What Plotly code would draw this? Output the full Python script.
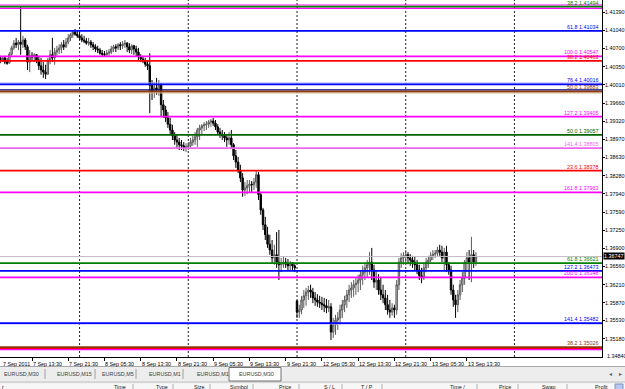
import plotly.graph_objects as go

# ---------------- data (EURUSD, M30) ----------------
start_bar = 2            # first visible bar index (bar 0 = 7 Sep 05:30)
first_open = 1.4052
gap_bar = 133            # first bar after the weekend
monday_open = 1.3590

highs = [
    1.4056, 1.4054, 1.4056, 1.4052, 1.4063, 1.4075, 1.4086, 1.4090, 1.4086, 1.4149,
    1.4094, 1.4090, 1.4077, 1.4067, 1.4063, 1.4061, 1.4059, 1.4056, 1.4052, 1.4044,
    1.4039, 1.4052, 1.4067, 1.4090, 1.4071, 1.4075, 1.4078, 1.4082, 1.4086, 1.4090,
    1.4097, 1.4099, 1.4105, 1.4107, 1.4103, 1.4101, 1.4097, 1.4094, 1.4090, 1.4090,
    1.4086, 1.4082, 1.4078, 1.4075, 1.4071, 1.4067, 1.4065, 1.4067, 1.4069, 1.4075,
    1.4077, 1.4078, 1.4080, 1.4082, 1.4084, 1.4086, 1.4082, 1.4080, 1.4078, 1.4077,
    1.4075, 1.4071, 1.4059, 1.4056, 1.4052, 1.4048, 1.4061, 1.4010, 1.4006, 1.4014,
    1.4010, 1.4004, 1.3972, 1.3961, 1.3949, 1.3938, 1.3925, 1.3911, 1.3906, 1.3900,
    1.3896, 1.3892, 1.3890, 1.3892, 1.3900, 1.3904, 1.3911, 1.3919, 1.3925, 1.3926,
    1.3930, 1.3932, 1.3934, 1.3936, 1.3938, 1.3934, 1.3926, 1.3919, 1.3915, 1.3911,
    1.3907, 1.3911, 1.3915, 1.3890, 1.3877, 1.3864, 1.3849, 1.3833, 1.3816, 1.3820,
    1.3820, 1.3818, 1.3824, 1.3839, 1.3835, 1.3797, 1.3767, 1.3750, 1.3731, 1.3716,
    1.3706, 1.3697, 1.3721, 1.3725, 1.3672, 1.3674, 1.3672, 1.3670, 1.3666, 1.3664,
    1.3660, 1.3592, 1.3583, 1.3600, 1.3611, 1.3615, 1.3619, 1.3621, 1.3615, 1.3607,
    1.3603, 1.3600, 1.3598, 1.3596, 1.3594, 1.3592, 1.3586, 1.3558, 1.3564, 1.3569,
    1.3583, 1.3592, 1.3600, 1.3611, 1.3621, 1.3626, 1.3630, 1.3634, 1.3640, 1.3649,
    1.3657, 1.3662, 1.3668, 1.3683, 1.3691, 1.3659, 1.3649, 1.3641, 1.3634, 1.3621,
    1.3611, 1.3602, 1.3592, 1.3586, 1.3583, 1.3630, 1.3672, 1.3681, 1.3683, 1.3687,
    1.3683, 1.3679, 1.3676, 1.3674, 1.3668, 1.3659, 1.3653, 1.3662, 1.3672, 1.3676,
    1.3683, 1.3687, 1.3687, 1.3693, 1.3697, 1.3695, 1.3691, 1.3695, 1.3664, 1.3657,
    1.3621, 1.3602, 1.3611, 1.3630, 1.3645, 1.3668, 1.3683, 1.3687, 1.3712, 1.3687,
    1.3683,
]

lows = [
    1.4042, 1.4044, 1.4040, 1.4039, 1.4042, 1.4056, 1.4067, 1.4071, 1.4067, 1.4058,
    1.4071, 1.4067, 1.4029, 1.4025, 1.4048, 1.4044, 1.4042, 1.4029, 1.4020, 1.4014,
    1.4012, 1.4021, 1.4040, 1.4044, 1.4039, 1.4056, 1.4059, 1.4061, 1.4067, 1.4071,
    1.4078, 1.4084, 1.4090, 1.4094, 1.4090, 1.4086, 1.4082, 1.4080, 1.4077, 1.4075,
    1.4071, 1.4067, 1.4063, 1.4061, 1.4058, 1.4054, 1.4054, 1.4056, 1.4056, 1.4059,
    1.4063, 1.4063, 1.4067, 1.4067, 1.4069, 1.4071, 1.4063, 1.4061, 1.4059, 1.4058,
    1.4054, 1.4048, 1.4044, 1.4042, 1.4035, 1.4029, 1.3947, 1.3972, 1.3976, 1.3982,
    1.3980, 1.3940, 1.3938, 1.3930, 1.3919, 1.3906, 1.3896, 1.3887, 1.3881, 1.3877,
    1.3877, 1.3875, 1.3873, 1.3877, 1.3881, 1.3885, 1.3887, 1.3883, 1.3896, 1.3907,
    1.3913, 1.3915, 1.3919, 1.3921, 1.3923, 1.3915, 1.3906, 1.3900, 1.3896, 1.3892,
    1.3883, 1.3887, 1.3881, 1.3858, 1.3843, 1.3833, 1.3816, 1.3788, 1.3790, 1.3793,
    1.3795, 1.3797, 1.3801, 1.3805, 1.3782, 1.3754, 1.3725, 1.3706, 1.3691, 1.3678,
    1.3662, 1.3659, 1.3653, 1.3630, 1.3645, 1.3653, 1.3653, 1.3649, 1.3649, 1.3649,
    1.3645, 1.3558, 1.3558, 1.3565, 1.3577, 1.3581, 1.3592, 1.3596, 1.3586, 1.3581,
    1.3579, 1.3577, 1.3573, 1.3569, 1.3567, 1.3569, 1.3516, 1.3520, 1.3526, 1.3535,
    1.3545, 1.3558, 1.3569, 1.3577, 1.3588, 1.3596, 1.3598, 1.3602, 1.3607, 1.3611,
    1.3621, 1.3630, 1.3634, 1.3640, 1.3630, 1.3615, 1.3611, 1.3602, 1.3592, 1.3586,
    1.3573, 1.3564, 1.3558, 1.3562, 1.3558, 1.3564, 1.3611, 1.3653, 1.3659, 1.3662,
    1.3660, 1.3657, 1.3653, 1.3649, 1.3641, 1.3630, 1.3624, 1.3630, 1.3645, 1.3653,
    1.3664, 1.3668, 1.3672, 1.3674, 1.3676, 1.3664, 1.3649, 1.3645, 1.3640, 1.3602,
    1.3579, 1.3558, 1.3569, 1.3592, 1.3607, 1.3621, 1.3645, 1.3630, 1.3626, 1.3653,
    1.3657,
]

closes = [
    1.4048, 1.4052, 1.4044, 1.4042, 1.4059, 1.4071, 1.4080, 1.4077, 1.4082, 1.4078,
    1.4086, 1.4073, 1.4044, 1.4056, 1.4054, 1.4058, 1.4048, 1.4037, 1.4029, 1.4025,
    1.4021, 1.4048, 1.4058, 1.4052, 1.4063, 1.4067, 1.4071, 1.4077, 1.4073, 1.4082,
    1.4090, 1.4096, 1.4101, 1.4097, 1.4094, 1.4090, 1.4086, 1.4084, 1.4080, 1.4082,
    1.4077, 1.4073, 1.4069, 1.4067, 1.4061, 1.4059, 1.4058, 1.4061, 1.4063, 1.4069,
    1.4073, 1.4071, 1.4077, 1.4075, 1.4078, 1.4080, 1.4073, 1.4067, 1.4075, 1.4069,
    1.4063, 1.4054, 1.4050, 1.4046, 1.4040, 1.4037, 1.4000, 1.3987, 1.3995, 1.3991,
    1.4002, 1.3963, 1.3953, 1.3938, 1.3926, 1.3915, 1.3904, 1.3896, 1.3892, 1.3887,
    1.3885, 1.3881, 1.3883, 1.3885, 1.3892, 1.3896, 1.3902, 1.3915, 1.3919, 1.3923,
    1.3925, 1.3926, 1.3930, 1.3932, 1.3928, 1.3921, 1.3911, 1.3907, 1.3904, 1.3900,
    1.3896, 1.3900, 1.3887, 1.3866, 1.3854, 1.3839, 1.3824, 1.3801, 1.3805, 1.3809,
    1.3812, 1.3811, 1.3816, 1.3830, 1.3792, 1.3763, 1.3735, 1.3716, 1.3698, 1.3687,
    1.3672, 1.3678, 1.3664, 1.3659, 1.3660, 1.3664, 1.3660, 1.3657, 1.3660, 1.3657,
    1.3653, 1.3569, 1.3573, 1.3592, 1.3600, 1.3607, 1.3611, 1.3607, 1.3596, 1.3592,
    1.3588, 1.3586, 1.3583, 1.3581, 1.3577, 1.3579, 1.3531, 1.3545, 1.3554, 1.3558,
    1.3573, 1.3583, 1.3592, 1.3602, 1.3611, 1.3615, 1.3621, 1.3624, 1.3630, 1.3640,
    1.3645, 1.3653, 1.3659, 1.3664, 1.3649, 1.3626, 1.3630, 1.3611, 1.3602, 1.3596,
    1.3583, 1.3573, 1.3569, 1.3577, 1.3573, 1.3621, 1.3664, 1.3672, 1.3676, 1.3678,
    1.3672, 1.3668, 1.3664, 1.3659, 1.3649, 1.3638, 1.3634, 1.3653, 1.3664, 1.3668,
    1.3676, 1.3679, 1.3681, 1.3687, 1.3683, 1.3672, 1.3683, 1.3659, 1.3649, 1.3611,
    1.3592, 1.3583, 1.3602, 1.3621, 1.3634, 1.3664, 1.3672, 1.3664, 1.3678, 1.3664,
    1.36747,
]

bid_price = 1.36747

# time axis labels (bar index -> text)
label_bars = [0, 16, 32, 48, 64, 80, 96, 112, 128, 144, 160, 176, 192, 208]
label_texts = ["7 Sep 2011", "7 Sep 13:30", "7 Sep 21:30", "8 Sep 05:30", "8 Sep 13:30",
               "8 Sep 21:30", "9 Sep 05:30", "9 Sep 13:30", "9 Sep 21:30", "12 Sep 05:30",
               "12 Sep 13:30", "12 Sep 21:30", "13 Sep 05:30", "13 Sep 13:30"]
day_separator_bars = [37, 85, 133, 181, 229]

price_ticks = [1.41390, 1.41040, 1.40700, 1.40350, 1.40010, 1.39660, 1.39320, 1.38970,
               1.38630, 1.38280, 1.37940, 1.37590, 1.37250, 1.36900, 1.36560, 1.36210,
               1.35870, 1.35530, 1.35180, 1.34840]

# Fibonacci levels: (label, price, colour)
fib_levels = [
    ("38.2 1.41494", 1.41494, "#008000"),
    ("61.8 1.41034", 1.41034, "#0000ff"),
    ("100.0 1.40547", 1.40547, "#ff00ff"),
    ("38.2 1.40463", 1.40463, "#ff0000"),
    ("76.4 1.40016", 1.40016, "#0000ff"),
    ("50.0 1.39883", 1.39883, "#8b3a0e"),
    ("127.2 1.39405", 1.39405, "#ff00ff"),
    ("50.0 1.39057", 1.39057, "#006400"),
    ("141.4 1.38805", 1.38805, "#ee66ee"),
    ("23.6 1.38378", 1.38378, "#ff0000"),
    ("161.8 1.37963", 1.37963, "#ff00ff"),
    ("61.8 1.36621", 1.36621, "#008000"),
    ("127.2 1.36473", 1.36473, "#0000ff"),
    ("200.0 1.36348", 1.36348, "#ff00ff"),
    ("141.4 1.35482", 1.35482, "#0000ff"),
    ("38.2 1.35026", 1.35026, "#8b3a0e"),
]
# unlabeled companion lines (price, colour)
extra_levels = [
    (1.41525, "#ff00ff"), (1.41462, "#ff00ff"), (1.40043, "#9fa8ff"),
    (1.39912, "#000080"), (1.39855, "#d8b48c"), (1.35466, "#aab2ff"),
    (1.35002, "#ff0000"), (1.34978, "#ff00ff"),
]

tab_names = ["EURUSD,M30", "EURUSD,M15", "EURUSD,M5", "EURUSD,M1", "EURUSD,M1", "EURUSD,M30"]
header_cols = ["Time", "Type", "Size", "Symbol", "Price", "S / L", "T / P", "Time /", "Price", "Swap", "Profit"]

# ---------------- layout geometry ----------------
W, H = 625, 389
PW, PH = 602, 357
BAR_PX = 2.265
BAR0_PX = -4.24
x_lo = (0 - BAR0_PX) / BAR_PX
x_hi = (PW - BAR0_PX) / BAR_PX
y_hi = 1.41620
y_lo = y_hi - PH * 0.00019

FONT = "Liberation Sans, Arial, sans-serif"
FS = 5.4


def px(x):
    return x / PW


def py(y):
    return (PH - y) / PH


def bar_px(b):
    return BAR0_PX + (b) * BAR_PX


bars = list(range(start_bar, start_bar + len(closes)))
opens = [first_open] + closes[:-1]
opens[gap_bar - start_bar] = monday_open

fig = go.Figure()
fig.add_trace(go.Candlestick(
    x=bars, open=opens, high=highs, low=lows, close=closes,
    increasing=dict(line=dict(color="#5a5a5a", width=1), fillcolor="#c8c8c8"),
    decreasing=dict(line=dict(color="#000000", width=1), fillcolor="#000000"),
    whiskerwidth=0, showlegend=False, hoverinfo="skip",
))

shapes = []
annotations = []

# day separators (dotted)
for b in day_separator_bars:
    shapes.append(dict(type="line", xref="x", yref="paper", x0=b, x1=b, y0=0, y1=1,
                       line=dict(color="#202020", width=1, dash="2px,2px"), layer="below"))

# bid line
shapes.append(dict(type="line", xref="paper", yref="y", x0=0, x1=1, y0=bid_price, y1=bid_price,
                   line=dict(color="#c0c0c0", width=1)))

for p, c in extra_levels:
    shapes.append(dict(type="line", xref="paper", yref="y", x0=0, x1=1, y0=p, y1=p,
                       line=dict(color=c, width=1.2)))

for txt, p, c in fib_levels:
    shapes.append(dict(type="line", xref="paper", yref="y", x0=0, x1=1, y0=p, y1=p,
                       line=dict(color=c, width=1.8)))
    annotations.append(dict(text=txt, xref="paper", yref="y", x=px(600), y=p,
                            xanchor="right", yanchor="bottom", showarrow=False, yshift=-1,
                            font=dict(family=FONT, size=FS, color=c)))

# current price box
annotations.append(dict(text=f"{bid_price:.5f}", xref="paper", yref="y", x=px(603), y=bid_price,
                        xanchor="left", yanchor="middle", showarrow=False,
                        bgcolor="black", borderpad=0,
                        font=dict(family=FONT, size=FS, color="white")))
# lowest tick label (at bottom edge)
annotations.append(dict(text="1.34840", xref="paper", yref="paper", x=px(605), y=py(355.5),
                        xanchor="left", yanchor="middle", showarrow=False,
                        font=dict(family=FONT, size=FS, color="black")))

# time labels (placed in pixel space; first one kept inside the picture)
for b, t in zip(label_bars, label_texts):
    xpos = max(bar_px(b) - 1, 0.5)
    annotations.append(dict(text=t, xref="paper", yref="paper", x=px(xpos), y=py(363.5),
                            xanchor="left", yanchor="middle", showarrow=False,
                            font=dict(family=FONT, size=FS, color="black")))

# ---- bottom terminal panel ----
shapes.append(dict(type="rect", xref="paper", yref="paper", x0=px(-1), x1=px(W + 1),
                   y0=py(381), y1=py(366.5), fillcolor="#ededed", line=dict(width=0), layer="above"))
shapes.append(dict(type="line", xref="paper", yref="paper", x0=px(0), x1=px(W),
                   y0=py(366.5), y1=py(366.5), line=dict(color="#a8a8a8", width=1)))
shapes.append(dict(type="rect", xref="paper", yref="paper", x0=px(-1), x1=px(W + 1),
                   y0=py(383.5), y1=py(381), fillcolor="#d6d6d6", line=dict(width=0)))
shapes.append(dict(type="rect", xref="paper", yref="paper", x0=px(-1), x1=px(W + 1),
                   y0=py(H + 1), y1=py(383.5), fillcolor="#f7f7f7", line=dict(width=0)))
# active tab
shapes.append(dict(type="rect", xref="paper", yref="paper", x0=px(229), x1=px(281),
                   y0=py(381), y1=py(367.5), fillcolor="white", line=dict(color="#707070", width=1)))
for sx in [45, 95, 136, 183]:
    shapes.append(dict(type="line", xref="paper", yref="paper", x0=px(sx), x1=px(sx),
                       y0=py(379), y1=py(369), line=dict(color="#a0a0a0", width=1)))
for name, tx in zip(tab_names, [2, 55, 100, 147, 195, 237]):
    annotations.append(dict(text=name, xref="paper", yref="paper", x=px(tx), y=py(373.8),
                            xanchor="left", yanchor="middle", showarrow=False,
                            font=dict(family=FONT, size=FS, color="#404040")))
for ch, ax in [("◂", 610), ("▸", 620)]:
    annotations.append(dict(text=ch, xref="paper", yref="paper", x=px(ax), y=py(373.8),
                            xanchor="center", yanchor="middle", showarrow=False,
                            font=dict(family=FONT, size=6, color="#606060")))
for sx in [133, 173, 210, 253, 299, 342, 382, 477, 518, 567]:
    shapes.append(dict(type="line", xref="paper", yref="paper", x0=px(sx), x1=px(sx),
                       y0=py(H + 1), y1=py(384), line=dict(color="#b0b0b0", width=1)))
annotations.append(dict(text="r", xref="paper", yref="paper", x=px(0), y=py(387),
                        xanchor="left", yanchor="middle", showarrow=False,
                        font=dict(family=FONT, size=FS, color="#202020")))
for name, ex in zip(header_cols, [128, 170, 207, 250, 293, 337, 375, 467, 513, 558, 610]):
    annotations.append(dict(text=name, xref="paper", yref="paper", x=px(ex), y=py(387),
                            xanchor="right", yanchor="middle", showarrow=False,
                            font=dict(family=FONT, size=FS, color="#202020")))
shapes.append(dict(type="rect", xref="paper", yref="paper", x0=px(615), x1=px(623),
                   y0=py(H + 1), y1=py(384), fillcolor="#b7c8ee", line=dict(color="#7d93c8", width=1)))

fig.update_layout(
    width=W, height=H,
    margin=dict(l=0, r=W - PW, t=0, b=H - PH, pad=0),
    paper_bgcolor="white", plot_bgcolor="white", showlegend=False,
    boxgap=0.1,
    shapes=shapes, annotations=annotations,
    xaxis=dict(range=[x_lo, x_hi], showgrid=False, zeroline=False, showline=True,
               linecolor="black", linewidth=1, tickvals=label_bars,
               ticktext=[""] * len(label_bars), ticks="outside", ticklen=3,
               tickcolor="black", tickwidth=1, rangeslider=dict(visible=False),
               fixedrange=True),
    yaxis=dict(side="right", range=[y_lo, y_hi], showgrid=False, zeroline=False,
               showline=True, linecolor="black", linewidth=1,
               tickvals=price_ticks[:-1], ticktext=[f"{v:.5f}" for v in price_ticks[:-1]],
               ticks="outside", ticklen=2, tickcolor="black", ticklabelstandoff=-1,
               tickfont=dict(family=FONT, size=FS, color="black"), fixedrange=True),
)

fig.write_html("out.html")
